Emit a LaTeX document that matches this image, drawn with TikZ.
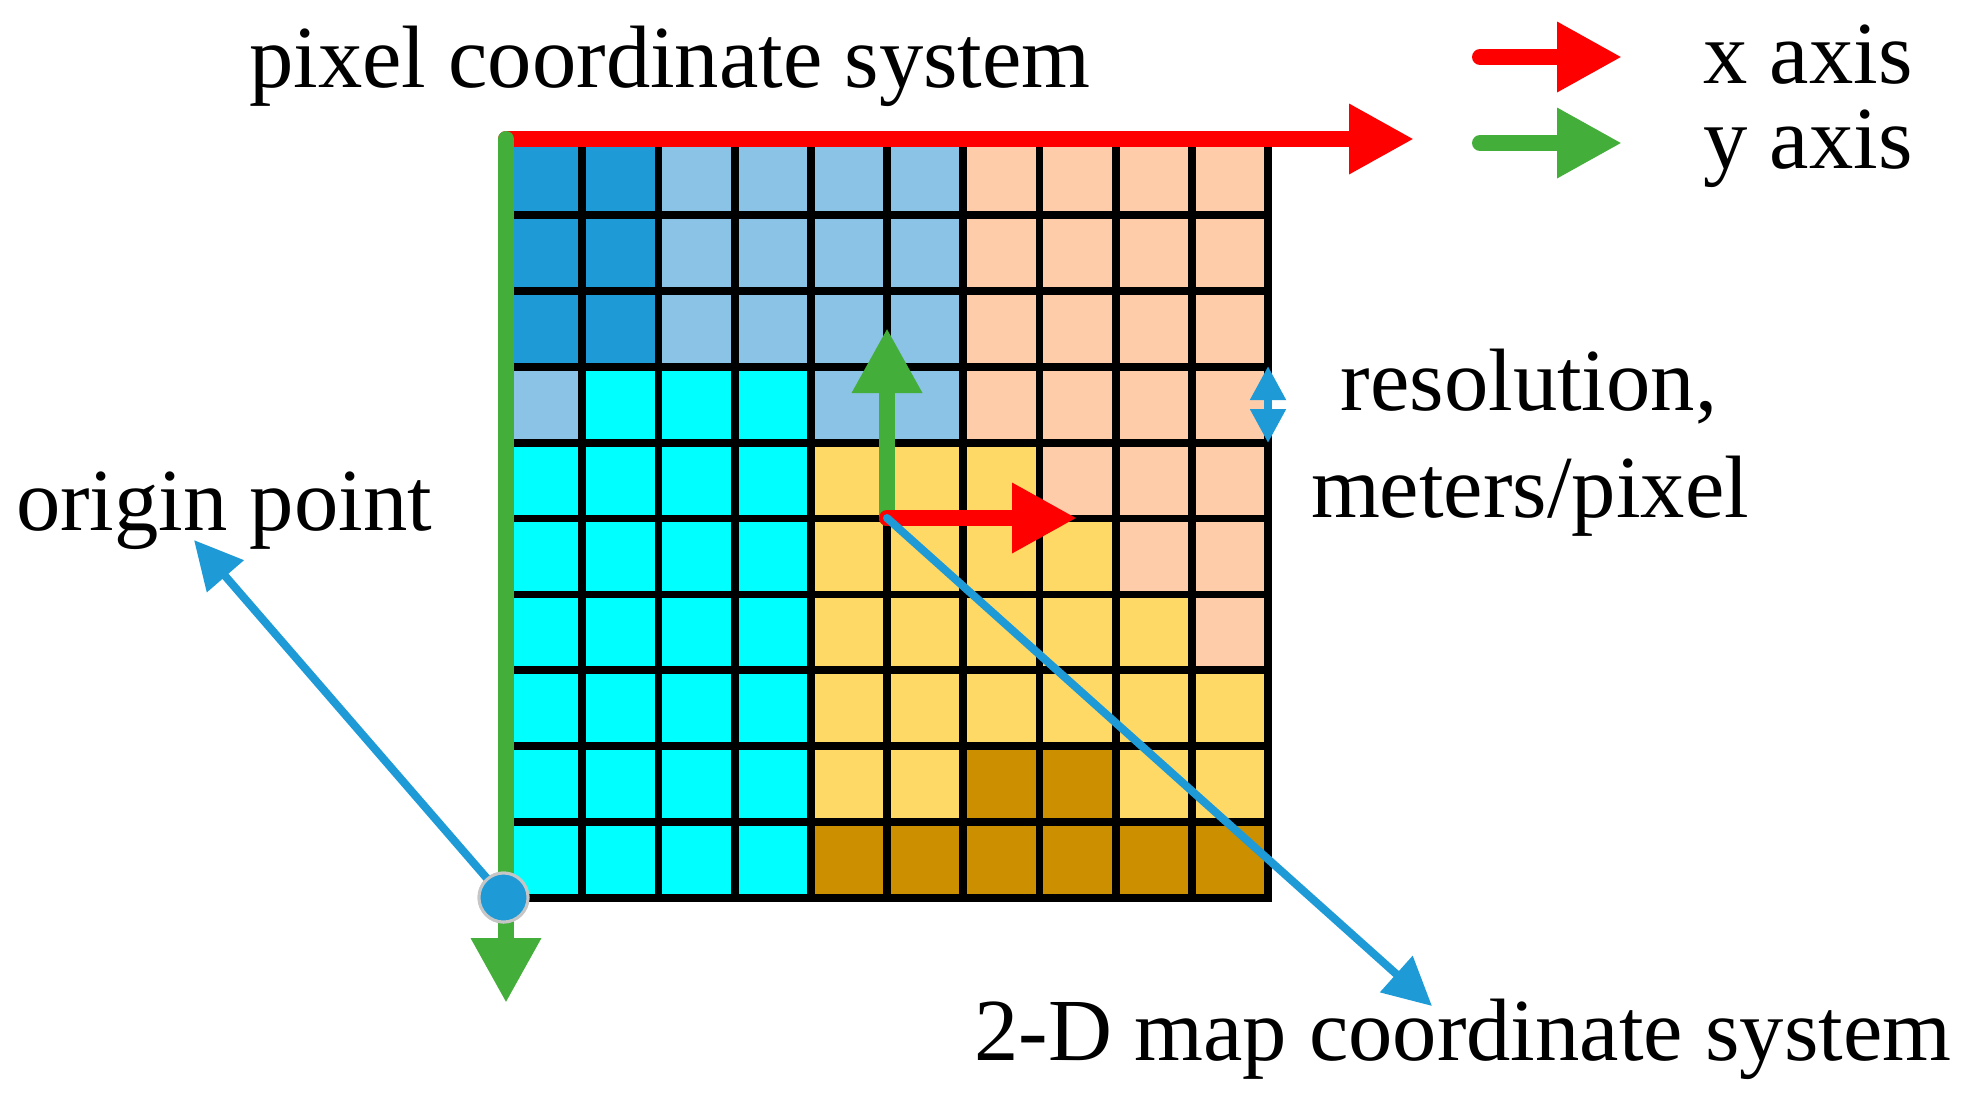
\documentclass[tikz,border=0pt]{standalone}
\usepackage{fontspec}
\setmainfont{Liberation Serif}
\usetikzlibrary{arrows.meta}
\definecolor{cellD}{HTML}{1E9BD7}
\definecolor{cellL}{HTML}{8BC3E6}
\definecolor{cellP}{HTML}{FFCCAA}
\definecolor{cellC}{HTML}{00FFFF}
\definecolor{cellY}{HTML}{FFD966}
\definecolor{cellB}{HTML}{CC8F00}
\definecolor{xred}{HTML}{FF0000}
\definecolor{ygreen}{HTML}{44AE3A}
\definecolor{pblue}{HTML}{1E9BD7}
\tikzset{
  gridline/.style={line width=3.9pt, black, line cap=rect},
  axisline/.style={line width=8pt, line cap=round, -{Triangle[length=32.5pt,width=33pt]}},
  pointer/.style={pblue, line width=4pt, line cap=round, -{Triangle[length=24pt,width=23.5pt]}},
  lbl/.style={font=\fontsize{44.3}{53}\selectfont, inner sep=0pt}
}
\begin{document}
\begin{tikzpicture}[x=0.5pt,y=-0.5pt]
\useasboundingbox (0,0) rectangle (1974,1105);
% cells
\foreach \r/\lst in {
  0/{D,D,L,L,L,L,P,P,P,P},
  1/{D,D,L,L,L,L,P,P,P,P},
  2/{D,D,L,L,L,L,P,P,P,P},
  3/{L,C,C,C,L,L,P,P,P,P},
  4/{C,C,C,C,Y,Y,Y,P,P,P},
  5/{C,C,C,C,Y,Y,Y,Y,P,P},
  6/{C,C,C,C,Y,Y,Y,Y,Y,P},
  7/{C,C,C,C,Y,Y,Y,Y,Y,Y},
  8/{C,C,C,C,Y,Y,B,B,Y,Y},
  9/{C,C,C,C,B,B,B,B,B,B}} {
  \foreach \c [count=\i from 0] in \lst {
    \fill[cell\c] (506+76.2*\i, 139+75.9*\r) rectangle ++(76.2,75.9);
  }
}
% grid
\foreach \i in {0,...,10} {
  \draw[gridline] (506+76.2*\i,139) -- (506+76.2*\i,898);
  \draw[gridline] (506,139+75.9*\i) -- (1268,139+75.9*\i);
}
% coordinates
\coordinate (corner) at (506,139);
\coordinate (pxtip) at (1414,139);
\coordinate (pytip) at (506,1003);
\coordinate (morig) at (887,518);
\coordinate (mxtip) at (1077,518);
\coordinate (mytip) at (887,328);
\coordinate (lxs) at (1480,57);
\coordinate (lxe) at (1622,57);
\coordinate (lys) at (1480,143);
\coordinate (lye) at (1622,143);
\coordinate (rtop) at (1268,366);
\coordinate (rbot) at (1268,443);
% pixel axes
\draw[axisline, xred] (corner) -- (pxtip);
\draw[axisline, ygreen] (corner) -- (pytip);
% map axes
\draw[axisline, ygreen] (morig) -- (mytip);
\draw[axisline, xred] (morig) -- (mxtip);
% legend arrows
\draw[axisline, xred] (lxs) -- (lxe);
\draw[axisline, ygreen] (lys) -- (lye);
% resolution arrow
\draw[pblue, line width=4pt, {Triangle[length=17pt,width=17pt]}-{Triangle[length=17pt,width=17pt]}] (rtop) -- (rbot);
% labels
\node[lbl, anchor=base] (pcs) at (670,87) {pixel coordinate system};
\node[lbl, anchor=base west] (xax) at (1703,83) {x axis};
\node[lbl, anchor=base west] (yax) at (1703,168) {y axis};
\node[lbl, anchor=base] (res1) at (1529,410) {resolution,};
\node[lbl, anchor=base] (res2) at (1530,517) {meters/pixel};
\node[lbl, anchor=base] (orig) at (224,530) {origin point};
\node[lbl, anchor=base] (mcs) at (1463,1060) {2-D map coordinate system};
\coordinate (otip) at (194,540);
\coordinate (mtip) at (1432,1006);
% pointers
\draw[pointer] (morig) -- (mtip);
\node[circle, fill=pblue, draw=gray!45, line width=1.5pt, minimum size=24.5pt, inner sep=0pt] (odot) at (503.5,897.5) {};
\draw[pointer] (odot.center) -- (otip);
\node[circle, fill=pblue, draw=gray!45, line width=1.5pt, minimum size=24.5pt, inner sep=0pt] at (odot.center) {};
\end{tikzpicture}
\end{document}
